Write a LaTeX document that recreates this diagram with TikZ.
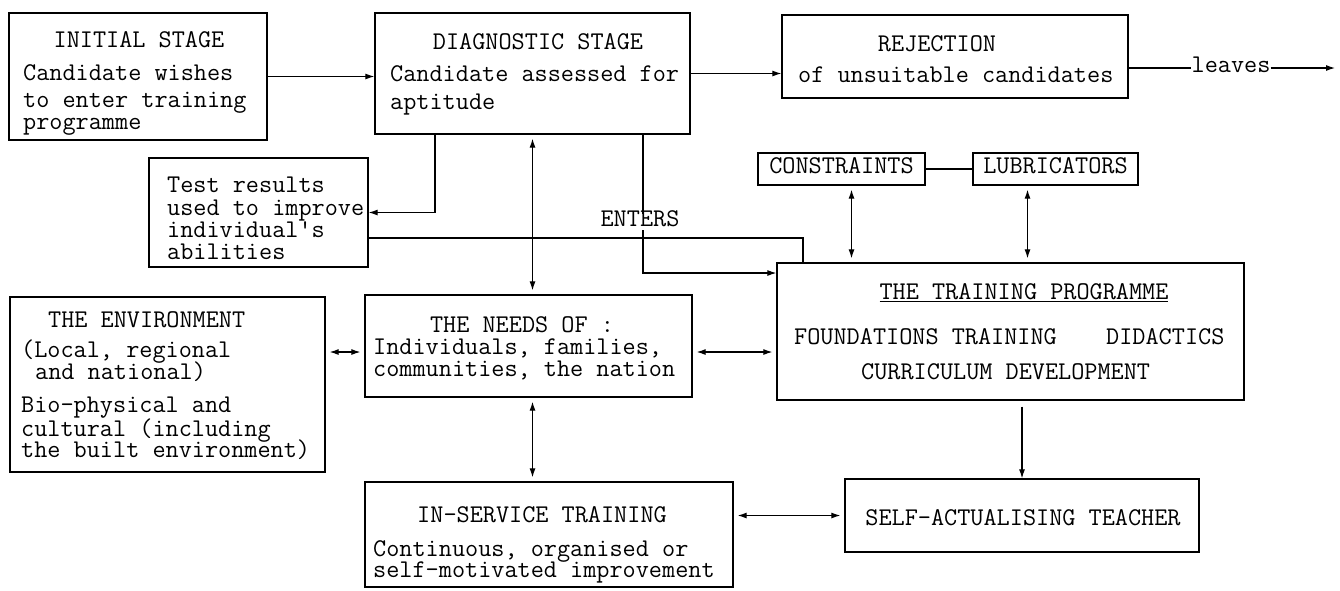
\documentclass[tikz,border=0pt]{standalone}
\usepackage{fontspec}
\usetikzlibrary{arrows.meta,positioning}
\tikzset{
    box/.style={draw, line width=1.3pt, inner sep=0pt},
    txt/.style={font=\ttfamily\fontsize{25.5}{30}\selectfont, inner sep=0pt,
                text height=12.5pt, text depth=3.5pt},
    link/.style={line width=1.1pt, >={Latex[length=9pt, width=6pt]}},
    dbl/.style={link, <->, shorten <=4pt, shorten >=4pt}
}
\begin{document}
\begin{tikzpicture}[x=1pt, y=-1pt]
    \useasboundingbox (0,0) rectangle (1340,590);
    % boxes
    \node [box, minimum width=258, minimum height=127] (init) at (138,76.5) {};
    \node [box, minimum width=315, minimum height=121] (diag) at (532.5,73.5) {};
    \node [box, minimum width=346, minimum height=83] (rej) at (955,56.5) {};
    \node [box, minimum width=219, minimum height=109] (test) at (258.5,212.5) {};
    \node [box, txt, minimum width=167, minimum height=32] (constr) at (841.5,169) {CONSTRAINTS};
    \node [box, txt, minimum width=165, minimum height=32] (lubr) at (1055.5,169) {LUBRICATORS};
    \node [box, minimum width=315, minimum height=175] (env) at (167.5,384.5) {};
    \node [box, minimum width=327, minimum height=102] (needs) at (528.5,346) {};
    \node [box, minimum width=467, minimum height=137] (train) at (1010.5,331.5) {};
    \node [box, minimum width=354, minimum height=73] (self) at (1022,515.5) {};
    \node [box, minimum width=368, minimum height=105] (inserv) at (549,534.5) {};

    \node [txt] (initT) at (139,43) {INITIAL STAGE};
    \node [txt, anchor=west] (initA) at (23,76) {Candidate wishes};
    \node [txt, anchor=west] (initB) at (23,103) {to enter training};
    \node [txt, anchor=west] (initC) at (23,125) {programme};

    \node [txt] (diagT) at (538,45) {DIAGNOSTIC STAGE};
    \node [txt, anchor=west] (diagA) at (390,77) {Candidate assessed for};
    \node [txt, anchor=west] (diagB) at (390,105) {aptitude};

    \node [txt] (rejT) at (937,47) {REJECTION};
    \node [txt, anchor=west] (rejA) at (798,78) {of unsuitable candidates};
    \node [txt] (leaves) at (1231,68) {leaves};

    \node [txt, anchor=west] (testA) at (167,188) {Test results};
    \node [txt, anchor=west] (testB) at (167,211) {used to improve};
    \node [txt, anchor=west] (testC) at (167,233) {individual's};
    \node [txt, anchor=west] (testD) at (167,255) {abilities};

    \node [txt, anchor=west] (envT) at (48,323) {THE ENVIRONMENT};
    \node [txt, anchor=west] (envA) at (21,353) {(Local, regional};
    \node [txt, anchor=west] (envB) at (35,375) {and national)};
    \node [txt, anchor=west] (envC) at (21,408) {Bio-physical and};
    \node [txt, anchor=west] (envD) at (21,432) {cultural (including};
    \node [txt, anchor=west] (envE) at (21,453) {the built environment)};

    \node [txt] (needsT) at (522,328) {THE NEEDS OF :};
    \node [txt, anchor=west] (needsA) at (373,350) {Individuals, families,};
    \node [txt, anchor=west] (needsB) at (373,372) {communities, the nation};

    \node [txt] (trainT) at (1024,295) {\underline{THE TRAINING PROGRAMME}};
    \node [txt, anchor=west] (trainA) at (794,340) {FOUNDATIONS TRAINING};
    \node [txt, anchor=west] (trainB) at (1106,340) {DIDACTICS};
    \node [txt, anchor=west] (trainC) at (861,375) {CURRICULUM DEVELOPMENT};

    \node [txt] (selfT) at (1023,521) {SELF-ACTUALISING TEACHER};

    \node [txt] (inservT) at (542,518) {IN-SERVICE TRAINING};
    \node [txt, anchor=west] (inservA) at (373,552) {Continuous, organised or};
    \node [txt, anchor=west] (inservB) at (373,573) {self-motivated improvement};

    % connectors
    \coordinate (colA) at (435,0);
    \coordinate (colB) at (643,0);
    \coordinate (colC) at (803,0);
    \coordinate (rowT) at (0,238);
    \coordinate (rowE) at (0,273);
    \coordinate (rowN) at (0,352);
    \coordinate (out) at (1335,68);

    \draw [link, ->] (init.east) -- (init.east -| diag.west);
    \draw [link, ->] (diag.east) -- (diag.east -| rej.west);
    \draw [link] (rej.east |- leaves) -- (leaves.west);
    \draw [link, ->] (leaves.east) -- (out);
    \draw [link, ->] (diag.south -| colA) |- (test.east);
    \draw [dbl] (diag.south) -- (diag.south |- needs.north);
    \draw [link, ->] (diag.south -| colB) |- (train.west |- rowE);
    \draw [link] (test.east |- rowT) -| (train.north -| colC);
    \node [txt, fill=white, inner xsep=2pt] (enters) at (640,222) {ENTERS};
    \draw [link] (constr) -- (lubr);
    \draw [dbl] ([xshift=10]constr.south) -- ([xshift=10]constr.south |- train.north);
    \draw [dbl] ([xshift=-28]lubr.south) -- ([xshift=-28]lubr.south |- train.north);
    \draw [dbl] (env.east |- rowN) -- (needs.west |- rowN);
    \draw [dbl] (needs.east |- rowN) -- (train.west |- rowN);
    \draw [dbl] (diag.south |- needs.south) -- (diag.south |- inserv.north);
    \draw [link, ->, shorten <=6pt] (train.south -| self.north) -- (self.north);
    \draw [dbl] (inserv.east |- self.west) -- (self.west);
\end{tikzpicture}
\end{document}
